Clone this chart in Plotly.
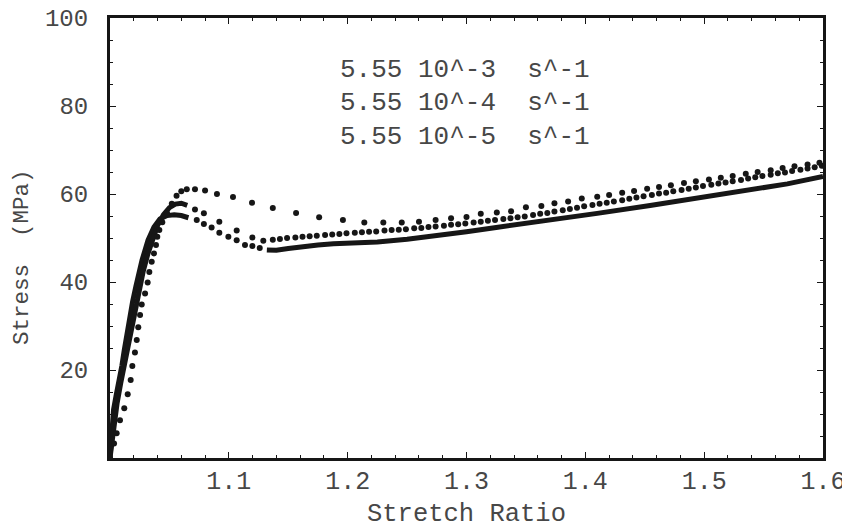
import plotly.graph_objects as go

# ---- data ----
# 5.55 10^-3 s^-1 (sparse dots)
S_x = [1.000, 1.0034, 1.0056, 1.0084, 1.012, 1.0149, 1.0174, 1.0188, 1.021, 1.0225, 1.0238, 1.0253, 1.0267,
       1.0295, 1.0317, 1.0331, 1.0351, 1.037, 1.0387, 1.0398, 1.0415, 1.044, 1.048, 1.052, 1.056, 1.060, 1.0646,
       1.0715, 1.080, 1.090, 1.1035, 1.1195, 1.137, 1.1566, 1.176, 1.196, 1.214, 1.230, 1.2455, 1.260, 1.274,
       1.287, 1.300, 1.312, 1.3255, 1.3375, 1.350, 1.363, 1.374, 1.3855, 1.397, 1.410, 1.420, 1.431, 1.441,
       1.452, 1.462, 1.472, 1.483, 1.493, 1.504, 1.514, 1.524, 1.535, 1.545, 1.556, 1.566, 1.576, 1.587, 1.597]
S_y = [0.0, 3.3, 5.6, 8.6, 11.3, 14.5, 17.7, 20.9, 24.0, 26.8, 29.7, 32.5, 34.9,
       37.4, 39.9, 42.3, 44.6, 46.5, 48.4, 50.3, 51.8, 53.6, 55.6, 57.8, 59.6, 60.6, 61.1,
       61.1, 60.8, 60.0, 59.3, 58.0, 56.8, 55.7, 54.7, 54.1, 53.5, 53.5, 53.5, 53.7, 54.1,
       54.5, 54.8, 55.5, 55.8, 56.1, 57.0, 57.3, 57.9, 58.3, 59.0, 59.4, 59.8, 60.3, 60.7,
       61.2, 61.6, 62.0, 62.5, 62.9, 63.3, 63.7, 64.1, 64.6, 65.0, 65.4, 65.9, 66.3, 66.7, 67.1]

# 5.55 10^-4 s^-1 (medium density)
M_rise_x = [1.000, 1.002, 1.004, 1.006, 1.009, 1.012, 1.015, 1.018, 1.021, 1.024, 1.028, 1.032, 1.036,
            1.040, 1.045, 1.050, 1.055, 1.060, 1.065]
M_rise_y = [0.0, 5.0, 9.0, 12.5, 17.0, 21.0, 25.5, 30.0, 34.0, 38.0, 42.5, 46.5, 50.0,
            52.8, 55.3, 56.9, 57.7, 57.9, 57.4]
M_dot_x = [1.0715, 1.079, 1.092, 1.1066, 1.1198, 1.129,
           1.137, 1.143, 1.149, 1.156, 1.162, 1.168, 1.174, 1.181, 1.187, 1.193, 1.199, 1.206, 1.212,
           1.218, 1.224, 1.231, 1.237, 1.243, 1.249, 1.256, 1.262, 1.268, 1.274, 1.281, 1.287, 1.293,
           1.299, 1.306, 1.312, 1.318, 1.324, 1.331, 1.337, 1.343, 1.349, 1.356, 1.362, 1.368, 1.374,
           1.381, 1.387, 1.393, 1.399, 1.406, 1.412, 1.418, 1.424, 1.431, 1.437, 1.443, 1.449, 1.456,
           1.462, 1.468, 1.474, 1.481, 1.487, 1.493, 1.499, 1.506, 1.512, 1.518, 1.524, 1.531, 1.537,
           1.543, 1.549, 1.556, 1.562, 1.568, 1.574, 1.581, 1.587, 1.593, 1.599]
M_dot_y = [56.5, 55.6, 53.7, 51.7, 50.1, 49.4,
           49.6, 49.8, 50.0, 50.1, 50.3, 50.4, 50.5, 50.7, 50.8, 50.9, 51.1, 51.2, 51.3,
           51.4, 51.5, 51.7, 51.8, 51.9, 52.0, 52.2, 52.3, 52.5, 52.6, 52.8, 53.0, 53.1,
           53.3, 53.5, 53.7, 53.9, 54.1, 54.3, 54.5, 54.7, 54.9, 55.2, 55.5, 55.7, 56.0,
           56.3, 56.6, 56.9, 57.2, 57.5, 57.8, 58.0, 58.3, 58.6, 58.9, 59.2, 59.5, 59.8,
           60.1, 60.3, 60.6, 60.9, 61.2, 61.5, 61.8, 62.1, 62.4, 62.6, 62.9, 63.2, 63.5,
           63.8, 64.1, 64.4, 64.7, 64.9, 65.2, 65.5, 65.8, 66.1, 66.4]

# 5.55 10^-5 s^-1 (dense, appears solid)
L_rise_x = [1.000, 1.001, 1.002, 1.003, 1.005, 1.0077, 1.010, 1.012, 1.014, 1.016, 1.019, 1.0217, 1.027,
            1.032, 1.037, 1.042, 1.048, 1.054, 1.060, 1.066]
L_rise_y = [0.0, 4.0, 8.0, 11.0, 14.0, 17.5, 21.0, 24.5, 28.0, 31.4, 35.5, 38.9, 45.0,
            49.5, 52.5, 54.3, 55.1, 55.3, 55.1, 54.6]
L_dot_x = [1.073, 1.079, 1.0855, 1.092, 1.0996, 1.1066, 1.1136, 1.1198, 1.126]
L_dot_y = [54.1, 53.2, 52.4, 51.2, 50.3, 49.5, 48.4, 48.2, 47.7]
L_post_x = [1.132, 1.140, 1.150, 1.160, 1.175, 1.188, 1.200, 1.225, 1.250, 1.275, 1.300, 1.325, 1.342,
            1.370, 1.410, 1.4545, 1.500, 1.5387, 1.570, 1.600]
L_post_y = [47.3, 47.2, 47.6, 48.0, 48.4, 48.7, 48.8, 49.1, 49.7, 50.5, 51.4, 52.4, 53.0,
            54.1, 55.6, 57.4, 59.3, 60.9, 62.3, 64.0]

x_ticks = [1.1, 1.2, 1.3, 1.4, 1.5, 1.6]
y_ticks = [20, 40, 60, 80, 100]
legend_lines = ["5.55\u00a010^-3\u00a0\u00a0s^-1",
                "5.55\u00a010^-4\u00a0\u00a0s^-1",
                "5.55\u00a010^-5\u00a0\u00a0s^-1"]
legend_y = [88.2, 80.7, 73.0]

INK = "#161616"
FONT = "Liberation Mono"
TXT = "#474747"

fig = go.Figure()
dot = dict(color=INK, size=6, line=dict(width=0))
fig.add_trace(go.Scatter(x=L_rise_x, y=L_rise_y, mode="lines", line=dict(color=INK, width=5)))
fig.add_trace(go.Scatter(x=L_dot_x, y=L_dot_y, mode="markers", marker=dot))
fig.add_trace(go.Scatter(x=L_post_x, y=L_post_y, mode="lines", line=dict(color=INK, width=5)))
fig.add_trace(go.Scatter(x=M_rise_x, y=M_rise_y, mode="lines", line=dict(color=INK, width=5)))
fig.add_trace(go.Scatter(x=M_dot_x, y=M_dot_y, mode="markers", marker=dot))
fig.add_trace(go.Scatter(x=S_x, y=S_y, mode="markers", marker=dot))

axis_common = dict(showline=True, linewidth=3, linecolor=INK, mirror="ticks", showgrid=False,
                   zeroline=False, ticks="inside", ticklen=6, tickwidth=1.2, tickcolor=INK,
                   automargin=False, ticklabeloverflow="allow")
fig.update_xaxes(range=[1.0, 1.6], tickmode="array", tickvals=x_ticks,
                 ticktext=[f"{v:.1f}" for v in x_ticks], ticklabelstandoff=-2,
                 tickfont=dict(family=FONT, size=25, color=TXT),
                 minor=dict(ticks="inside", ticklen=3, dtick=0.02, tick0=1.0, tickcolor=INK, showgrid=False),
                 **axis_common)
fig.update_yaxes(range=[0, 100], tickmode="array", tickvals=y_ticks,
                 ticktext=[str(v) for v in y_ticks], ticklabelstandoff=14,
                 tickfont=dict(family=FONT, size=24, color=TXT),
                 minor=dict(ticks="inside", ticklen=3, dtick=5, tick0=0, tickcolor=INK, showgrid=False),
                 **axis_common)

for t, yy in zip(legend_lines, legend_y):
    fig.add_annotation(x=1.192, y=yy, xref="x", yref="y", text=t, showarrow=False,
                       xanchor="left", yanchor="middle", font=dict(family=FONT, size=26, color=TXT))

fig.add_annotation(x=0.5007, y=-0.129, xref="paper", yref="paper", text="Stretch\u00a0Ratio",
                   showarrow=False, xanchor="center", yanchor="middle",
                   font=dict(family=FONT, size=25.5, color=TXT))
fig.add_annotation(x=-0.1234, y=0.457, xref="paper", yref="paper", text="Stress\u00a0\u00a0(MPa)",
                   showarrow=False, xanchor="center", yanchor="middle", textangle=-90,
                   font=dict(family=FONT, size=22.5, color=TXT))

# the page body adds an 8px offset, so the margins are shifted to compensate
fig.update_layout(width=850, height=529, showlegend=False,
                  margin=dict(l=102, r=35, t=10, b=79),
                  paper_bgcolor="white", plot_bgcolor="white")
fig.write_html("out.html")
